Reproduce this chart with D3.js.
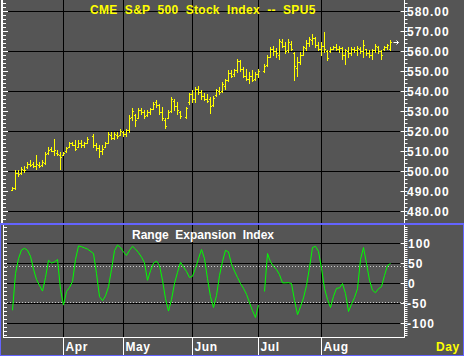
<!DOCTYPE html>
<html><head><meta charset="utf-8">
<script src="https://cdn.jsdelivr.net/npm/d3@7"></script>
<style>
html,body{margin:0;padding:0;background:#555555;overflow:hidden}
svg text{font-family:"Liberation Sans",Arial,sans-serif;font-weight:bold;font-size:12px}
</style></head>
<body><svg id="c" width="464" height="356"></svg>
<script>
// ---------- DATA ----------
const title = "CME  S&P  500  Stock  Index  --  SPU5";
const indicatorTitle = "Range  Expansion  Index";
const year = 1995;
const dates = ("3/9 3/10 3/13 3/14 3/15 3/16 3/17 3/20 3/21 3/22 3/23 3/24 3/27 3/28 3/29 3/30 3/31 " +
 "4/3 4/4 4/5 4/6 4/7 4/10 4/11 4/12 4/13 4/17 4/18 4/19 4/20 4/21 4/24 4/25 4/26 4/27 4/28 " +
 "5/1 5/2 5/3 5/4 5/5 5/8 5/9 5/10 5/11 5/12 5/15 5/16 5/17 5/18 5/19 5/22 5/23 5/24 5/25 5/26 5/30 5/31 " +
 "6/1 6/2 6/5 6/6 6/7 6/8 6/9 6/12 6/13 6/14 6/15 6/16 6/19 6/20 6/21 6/22 6/23 6/26 6/27 6/28 6/29 6/30 " +
 "7/3 7/5 7/6 7/7 7/10 7/11 7/12 7/13 7/14 7/17 7/18 7/19 7/20 7/21 7/24 7/25 7/26 7/27 7/28 7/31 " +
 "8/1 8/2 8/3 8/4 8/7 8/8 8/9 8/10 8/11 8/14 8/15 8/16 8/17 8/18 8/21 8/22 8/23 8/24 8/25 8/28 8/29 8/30 8/31 " +
 "9/1").split(" ");

const opens = [491.0,492.0,499.5,499.5,501.0,502.5,504.0,504.0,503.0,503.5,503.5,504.5,509.5,511.5,510.5,509.5,508.5,
 508.5,510.0,512.5,514.0,513.5,512.5,514.5,513.0,514.5,518.0,513.0,512.0,510.5,512.5,514.5,518.5,517.0,518.5,518.5,
 520.0,519.0,521.0,527.5,528.5,527.0,531.0,530.0,528.5,530.0,531.5,534.5,533.5,530.0,526.0,527.0,530.5,535.5,533.0,530.0,527.5,534.5,
 539.0,536.0,541.5,540.0,538.0,536.5,536.0,533.5,538.5,540.5,540.5,543.0,546.0,549.5,549.0,551.0,555.5,551.5,548.0,546.5,548.0,546.5,
 549.0,550.5,553.5,557.5,561.5,560.0,558.0,565.0,563.0,560.5,564.0,559.0,552.0,555.0,558.5,562.0,564.5,566.0,567.0,563.5,
 561.5,563.0,560.0,560.0,561.5,562.5,561.5,562.0,558.0,560.0,559.0,561.0,560.5,561.5,560.0,561.0,559.0,558.0,560.5,562.5,560.0,561.0,562.5,
 561.0];
const highs = [492.3,500.6,500.6,502.3,502.6,504.8,505.6,505.0,508.1,504.8,505.6,509.8,512.3,512.3,516.5,510.6,509.8,
 509.8,512.3,514.8,514.8,515.6,515.6,516.0,514.8,517.3,519.0,514.0,513.1,513.0,514.8,519.8,519.8,519.8,519.8,521.5,
 520.5,521.5,528.1,531.8,529.0,532.0,532.0,530.7,530.6,532.0,534.8,535.6,534.0,532.3,526.5,530.6,537.3,536.5,534.8,530.5,532.3,539.5,
 540.6,542.3,543.0,540.6,539.5,539.0,537.3,538.0,541.5,542.3,544.8,546.5,550.6,550.6,551.5,556.5,556.0,552.5,551.5,549.8,551.0,550.0,
 551.5,554.0,558.0,562.3,563.0,562.0,566.5,566.5,564.8,566.5,565.5,559.8,557.3,559.8,563.0,565.6,567.3,569.0,567.3,565.0,
 564.8,569.8,560.6,562.3,563.0,564.0,563.0,562.3,561.5,562.3,562.3,562.3,563.0,562.5,565.6,561.5,560.6,561.5,564.0,563.0,560.6,563.0,564.0,
 565.6];
const lows = [490.6,491.5,498.0,499.0,500.0,502.0,503.0,502.3,501.5,502.3,503.0,504.0,509.0,510.0,508.1,508.1,501.5,
 508.1,509.8,512.3,513.0,510.6,512.3,512.3,512.3,514.0,512.3,510.6,507.3,509.0,512.3,514.0,516.5,516.5,517.0,518.1,
 518.0,518.0,519.8,526.0,523.0,526.5,529.0,526.7,528.0,529.0,531.5,532.3,529.0,525.6,521.8,526.6,530.0,531.0,529.0,526.6,526.5,534.0,
 535.0,534.8,539.0,536.0,535.6,534.8,529.5,533.0,538.0,539.0,539.8,541.5,545.0,547.3,548.0,550.0,550.5,547.0,545.6,544.5,545.0,546.0,
 547.3,549.8,553.0,557.3,558.0,557.5,556.5,562.3,559.0,559.8,560.5,545.6,548.0,554.0,558.0,560.6,563.0,564.0,562.3,560.5,
 558.0,559.8,555.6,559.8,561.0,560.6,559.8,556.5,554.0,557.5,558.3,559.8,558.0,559.0,557.3,558.0,557.3,556.5,559.8,559.0,556.5,560.6,561.5,
 560.6];
const closes = [491.8,499.5,498.8,501.5,500.8,504.0,503.5,503.0,503.8,503.0,504.8,509.0,511.0,510.5,511.0,508.8,507.5,
 509.3,511.8,514.0,513.5,511.5,514.5,513.0,514.0,516.5,513.0,512.0,510.5,511.5,514.5,519.0,517.0,519.0,518.0,520.5,
 519.0,521.0,527.0,530.5,526.0,531.0,530.0,528.0,530.0,531.5,534.0,533.5,530.0,526.5,523.0,530.0,536.0,533.0,531.0,528.0,532.0,539.0,
 536.0,541.5,540.0,538.0,536.5,535.5,533.0,537.0,541.0,540.0,544.0,546.0,549.5,548.0,551.0,555.5,551.5,548.0,546.5,548.0,546.0,549.0,
 550.5,553.0,557.5,561.5,560.0,559.0,565.5,563.0,560.0,565.0,561.5,553.0,555.0,558.5,562.5,564.5,566.5,567.0,563.5,561.5,
 563.0,561.0,557.0,561.5,562.5,561.5,562.0,558.0,560.5,559.0,561.0,560.5,562.0,560.0,563.5,559.0,558.0,560.5,563.0,560.0,558.0,562.5,563.5,
 565.0];
const rei = [-67,25,62,84,88,83,68,36,10,-5,-19,15,58,51,54,60,-15,
 -54,-20,-10,5,60,94,92,89,86,75,25,-33,-43,-31,-8,35,82,96,90,
 79,70,83,93,86,77,66,52,8,32,51,56,45,8,-38,-69,-40,0,28,53,30,15,
 18,38,62,85,62,12,-33,-60,-30,20,55,83,79,48,31,15,0,-12,-27,-48,-68,-85,
 -54,-20,75,54,43,35,22,1.5,1.5,2,0,-42,-78,-58,-36,-5,40,90,93,80,
 38,-12,-40,-60,-32,-12,-11,0,-25,-70,-52,-35,-13,60,90,50,8,-17,-23,-13,-8,20,45,
 50];
const reiBreakAfter = ["7/3"];   // the indicator line is interrupted after this day

const priceTicks = [580,570,560,550,540,530,520,510,500,490,480];
const priceGrid = [580,560,540,520,500,480];
const reiTicks = [100,50,0,-50,-100];
const reiBands = [45,-45];
const monthLabels = ["Apr","May","Jun","Jul","Aug"];
const monthStarts = ["4/3","5/1","6/1","7/3","8/1"];
const periodLabel = "Day";

// ---------- SETUP ----------
const svg = d3.select("#c");
const W = 464, H = 356;
const BG = "#555555", BLUE = "#6464ff";
svg.append("rect").attr("width", W).attr("height", H).attr("fill", BG);

const parse = d3.timeParse("%m/%d/%Y");
const key = d3.timeFormat("%m/%d");
const tDates = dates.map(s => parse(s + "/" + year));
const slots = d3.timeDay.range(tDates[0], d3.timeDay.offset(tDates[tDates.length - 1], 1))
  .filter(d => d.getDay() !== 0 && d.getDay() !== 6).map(key);
const x = d3.scalePoint().domain(slots).range([12.5, 390.5]);
const xd = s => x(key(parse(s + "/" + year)));

const upP = {y0: 0, y1: 224};
const loP = {y0: 225, y1: 337};
const axisX = 404.5;
const yP = d3.scaleLinear().domain([480, 580]).range([211.5, 11.5]);
const yR = d3.scaleLinear().domain([-100, 100]).range([323.5, 243.5]);

const bars = dates.map((d, i) => ({d, x: xd(d), o: opens[i], h: highs[i], l: lows[i], c: closes[i], r: rei[i]}));

// ---------- UPPER PANEL ----------
const g1 = svg.append("g");
g1.selectAll(".hg").data(priceGrid).join("line")
  .attr("x1", 3).attr("x2", axisX).attr("y1", d => yP(d)).attr("y2", d => yP(d))
  .attr("stroke", "#000").attr("stroke-width", 1);
g1.selectAll(".vg").data(monthStarts).join("line")
  .attr("x1", d => xd(d)).attr("x2", d => xd(d)).attr("y1", upP.y0).attr("y2", upP.y1)
  .attr("stroke", "#000");
g1.append("rect").attr("x", 1).attr("y", 0).attr("width", 2).attr("height", 224).attr("fill", "#fff");
const minorP = d3.range(474, 588, 2).filter(v => yP(v) >= 0 && yP(v) <= 223);
g1.selectAll(".lt").data(minorP).join("line")
  .attr("x1", 3).attr("x2", d => d % 10 === 0 ? 8 : 6)
  .attr("y1", d => Math.floor(yP(d)) + 0.5).attr("y2", d => Math.floor(yP(d)) + 0.5)
  .attr("stroke", "#fff");
g1.append("line").attr("x1", axisX).attr("x2", axisX).attr("y1", 0).attr("y2", 224).attr("stroke", "#fff");
g1.selectAll(".rt").data(minorP).join("line")
  .attr("x1", d => d % 10 === 0 ? axisX - 4 : axisX).attr("x2", axisX + 3)
  .attr("y1", d => Math.floor(yP(d)) + 0.5).attr("y2", d => Math.floor(yP(d)) + 0.5)
  .attr("stroke", "#fff");
g1.selectAll(".pl").data(priceTicks).join("text")
  .attr("x", 407).attr("y", d => yP(d) + 4.5)
  .attr("fill", "#fff").style("letter-spacing", "1px")
  .text(d => d.toFixed(2));

const YEL = "#ffff00";
const gb = g1.append("g");
bars.forEach(b => {
  const yh = Math.round(yP(b.h)), yl = Math.round(yP(b.l));
  gb.append("rect").attr("x", b.x - 0.5).attr("y", yh).attr("width", 1).attr("height", Math.max(1, yl - yh + 1)).attr("fill", YEL);
  gb.append("rect").attr("x", b.x - 1.5).attr("y", Math.round(yP(b.o))).attr("width", 1).attr("height", 1).attr("fill", YEL);
  gb.append("rect").attr("x", b.x + 0.5).attr("y", Math.round(yP(b.c))).attr("width", 1).attr("height", 1).attr("fill", YEL);
});
const lastB = bars[bars.length - 1];
const ya = Math.round(yP(lastB.c)) + 0.5;
g1.append("path")
  .attr("d", `M${lastB.x + 3},${ya}H${lastB.x + 8}M${lastB.x + 6},${ya - 2}L${lastB.x + 8},${ya}L${lastB.x + 6},${ya + 2}`)
  .attr("stroke", "#fff").attr("fill", "none").attr("stroke-width", 1);

g1.append("text").attr("x", 90).attr("y", 14).attr("fill", YEL).style("letter-spacing", "0.3px")
  .style("white-space", "pre").attr("xml:space", "preserve").text(title);

svg.append("rect").attr("x", 0).attr("y", 223).attr("width", W).attr("height", 2).attr("fill", BLUE);

// ---------- LOWER PANEL ----------
const g2 = svg.append("g");
g2.selectAll(".hg2").data(reiTicks).join("line")
  .attr("x1", 4).attr("x2", axisX).attr("y1", d => yR(d)).attr("y2", d => yR(d)).attr("stroke", "#000");
g2.selectAll(".vg2").data(monthStarts).join("line")
  .attr("x1", d => xd(d)).attr("x2", d => xd(d)).attr("y1", loP.y0).attr("y2", loP.y1).attr("stroke", "#000");
g2.selectAll(".band").data(reiBands).join("line")
  .attr("x1", 4).attr("x2", axisX).attr("y1", d => Math.round(yR(d)) + 0.5).attr("y2", d => Math.round(yR(d)) + 0.5)
  .attr("stroke", "#c8c8c8").attr("stroke-dasharray", "1,2");
g2.append("line").attr("x1", 3.5).attr("x2", 3.5).attr("y1", loP.y0).attr("y2", loP.y1 + 0.5).attr("stroke", "#fff");
g2.append("line").attr("x1", 3).attr("x2", axisX + 0.5).attr("y1", loP.y1 + 0.5).attr("y2", loP.y1 + 0.5).attr("stroke", "#fff");
g2.append("line").attr("x1", axisX).attr("x2", axisX).attr("y1", loP.y0).attr("y2", loP.y1 + 1).attr("stroke", "#fff");
const minorR = d3.range(-130, 141, 10).filter(v => yR(v) > loP.y0 && yR(v) < loP.y1);
g2.selectAll(".lt2").data(minorR).join("line")
  .attr("x1", 4).attr("x2", 7).attr("y1", d => Math.floor(yR(d)) + 0.5).attr("y2", d => Math.floor(yR(d)) + 0.5).attr("stroke", "#fff");
const minorR2 = d3.range(-135, 141, 5).filter(v => yR(v) > loP.y0 && yR(v) < loP.y1);
g2.selectAll(".rt2").data(minorR2).join("line")
  .attr("x1", d => d % 50 === 0 ? axisX - 4 : axisX).attr("x2", axisX + 3)
  .attr("y1", d => Math.floor(yR(d)) + 0.5).attr("y2", d => Math.floor(yR(d)) + 0.5).attr("stroke", "#fff");
g2.selectAll(".rl").data(reiTicks).join("text")
  .attr("x", d => d < 0 ? 407 : 408).attr("y", d => yR(d) + 4.5).attr("fill", "#fff").style("letter-spacing", "1px")
  .text(d => d);
// REI line, split into segments at the break days
const segments = [];
let cur = [];
bars.forEach(b => {
  cur.push(b);
  if (reiBreakAfter.includes(b.d)) { segments.push(cur); cur = []; }
});
if (cur.length) segments.push(cur);
const line = d3.line().x(b => b.x).y(b => yR(b.r));
g2.selectAll(".rei").data(segments).join("path").attr("d", line)
  .attr("fill", "none").attr("stroke", "#00ff00").attr("stroke-width", 1);
g2.append("text").attr("x", 132).attr("y", 238.5).attr("fill", "#fff")
  .style("white-space", "pre").attr("xml:space", "preserve").text(indicatorTitle);

// ---------- X AXIS ----------
g2.selectAll(".mt").data(monthStarts).join("line")
  .attr("x1", d => xd(d)).attr("x2", d => xd(d)).attr("y1", loP.y1).attr("y2", 355).attr("stroke", "#fff");
g2.selectAll(".ml").data(monthStarts).join("text")
  .attr("x", d => xd(d) + 2).attr("y", 351).attr("fill", "#fff").style("letter-spacing", "0.6px")
  .text((d, i) => monthLabels[i]);
g2.append("text").attr("x", 436).attr("y", 351).attr("fill", YEL).style("letter-spacing", "0.6px").text(periodLabel);

svg.append("rect").attr("x", 0.5).attr("y", 224.5).attr("width", W - 1).attr("height", H - 225)
  .attr("fill", "none").attr("stroke", BLUE);
</script></body></html>
